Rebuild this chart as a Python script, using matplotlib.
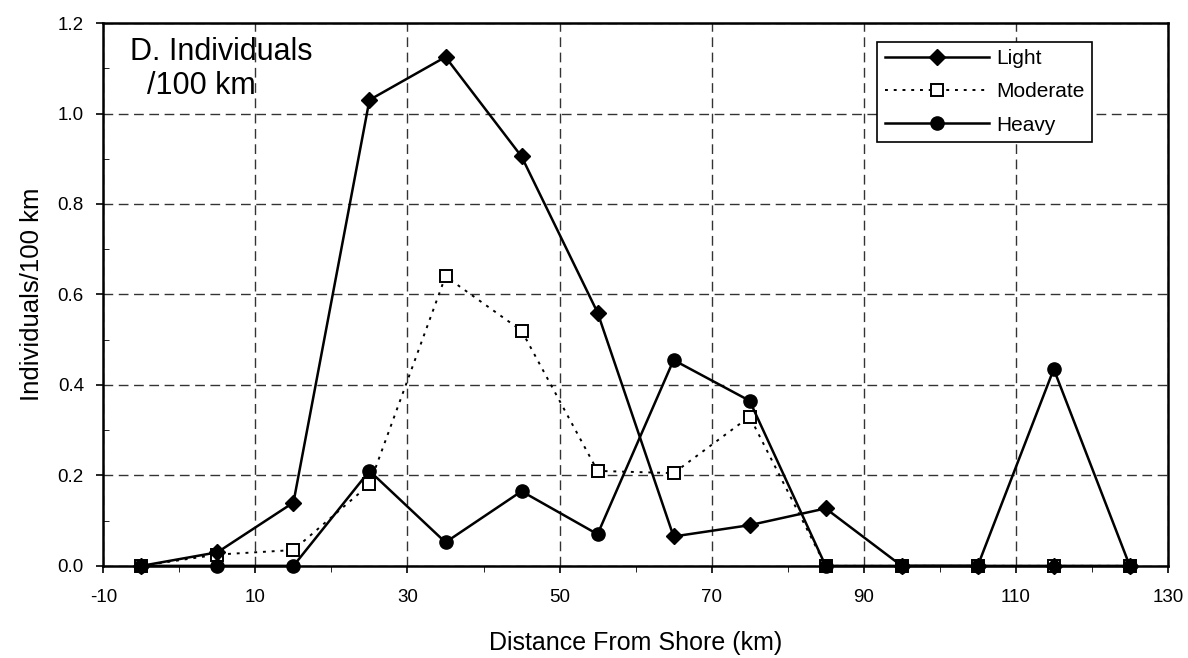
import matplotlib.pyplot as plt
from matplotlib.ticker import MultipleLocator, FixedLocator

plt.rcParams['font.family'] = ['Liberation Sans', 'DejaVu Sans']
plt.rcParams['axes.unicode_minus'] = False

# distanza dalla costa (centri delle classi, km)
distance = [-5, 5, 15, 25, 35, 45, 55, 65, 75, 85, 95, 105, 115, 125]

light = [0.0, 0.03, 0.14, 1.03, 1.125, 0.905, 0.56, 0.065, 0.09, 0.127, 0.0, 0.0, 0.0, 0.0]
moderate = [0.0, 0.025, 0.035, 0.18, 0.64, 0.52, 0.21, 0.205, 0.33, 0.0, 0.0, 0.0, 0.0, 0.0]
heavy = [0.0, 0.0, 0.0, 0.21, 0.052, 0.165, 0.07, 0.455, 0.365, 0.0, 0.0, 0.0, 0.435, 0.0]

x_ticks = [-10, 10, 30, 50, 70, 90, 110, 130]

fig, ax = plt.subplots(figsize=(11.88, 6.58), dpi=100)
fig.subplots_adjust(left=0.087, right=0.983, bottom=0.14, top=0.965)

# serie (moderate sotto le altre)
ax.plot(distance, moderate, color="black", lw=1.4, ls=(0, (1.5, 3)),
        marker="s", ms=9, mfc="white", mec="black", mew=1.4,
        label="Moderate", zorder=3, clip_on=False)
ax.plot(distance, light, color="black", lw=1.8, marker="D", ms=8,
        label="Light", zorder=4, clip_on=False)
ax.plot(distance, heavy, color="black", lw=1.8, marker="o", ms=9.5,
        label="Heavy", zorder=4, clip_on=False)

ax.set_xlim(-10, 130)
ax.set_ylim(0, 1.2)
ax.xaxis.set_major_locator(FixedLocator(x_ticks))
ax.xaxis.set_minor_locator(MultipleLocator(10))
ax.yaxis.set_major_locator(MultipleLocator(0.2))
ax.yaxis.set_minor_locator(MultipleLocator(0.1))
ax.yaxis.set_major_formatter(plt.FormatStrFormatter('%.1f'))

ax.grid(True, which="major", color="#333333", ls=(0, (7, 4)), lw=1.0)
ax.tick_params(which="major", direction="out", length=5, width=1.2, labelsize=13.5)
ax.tick_params(axis="x", which="major", pad=12)
ax.tick_params(axis="y", which="major", pad=9)
ax.tick_params(axis="x", which="minor", direction="out", length=4)
ax.tick_params(axis="y", which="minor", direction="in", length=4)

for s in ax.spines.values():
    s.set_linewidth(1.8)

ax.set_xlabel("Distance From Shore (km)", fontsize=18, labelpad=18)
ax.set_ylabel("Individuals/100 km", fontsize=18.5, labelpad=10)

ax.text(0.025, 0.975, "D. Individuals\n  /100 km", transform=ax.transAxes,
        fontsize=22, va="top", ha="left", linespacing=1.2)

handles, labels = ax.get_legend_handles_labels()
order = [1, 0, 2]
leg = ax.legend([handles[i] for i in order], [labels[i] for i in order],
                loc="upper right", bbox_to_anchor=(0.9286, 0.965), fontsize=15,
                frameon=True, fancybox=False, edgecolor="black", framealpha=1,
                handlelength=5.0, handletextpad=0.35, borderpad=0.35,
                labelspacing=0.68, borderaxespad=0)
leg.get_frame().set_linewidth(1.2)

plt.savefig("out.png", dpi=100)
